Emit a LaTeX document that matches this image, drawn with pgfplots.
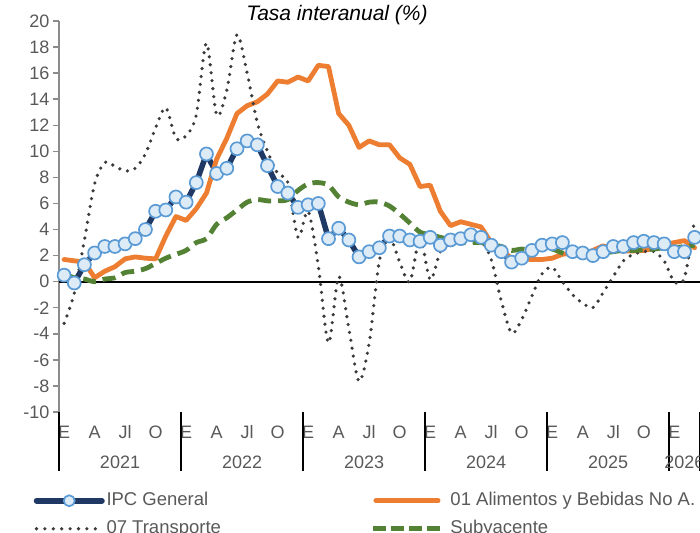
\documentclass[border=0pt]{standalone}
\usepackage{fontspec}
\setmainfont{Liberation Sans}
\usepackage{pgfplots}
\usepackage{pgfplotstable}
\pgfplotsset{compat=1.18}
\definecolor{navy}{HTML}{1F3864}
\definecolor{markblue}{HTML}{5B9BD5}
\definecolor{markfill}{HTML}{DDEBF7}
\definecolor{orng}{HTML}{ED7D31}
\definecolor{dotgray}{HTML}{3A3A3A}
\definecolor{grn}{HTML}{548235}
\definecolor{labelgray}{HTML}{595959}
\definecolor{axisgray}{HTML}{8C8C8C}
\pgfplotstableread{
i ipc ali tra sub
0 0.5 1.7 -3.2 0.6
1 -0.1 1.6 -0.9 0.3
2 1.3 1.5 3.2 0.2
3 2.2 0.3 7.5 0.0
4 2.7 0.8 9.15 0.2
5 2.7 1.15 8.85 0.3
6 2.9 1.75 8.5 0.7
7 3.3 1.9 8.7 0.8
8 4.0 1.8 9.8 1.0
9 5.4 1.75 11.8 1.4
10 5.5 3.5 13.35 1.8
11 6.5 5.0 11.0 2.1
12 6.1 4.7 11.2 2.4
13 7.6 5.6 12.8 3.0
14 9.8 6.8 18.3 3.3
15 8.3 9.4 12.8 4.4
16 8.7 11.0 14.7 4.9
17 10.2 12.9 18.95 5.5
18 10.8 13.5 16.0 6.1
19 10.5 13.8 12.2 6.3
20 8.9 14.4 10.0 6.2
21 7.3 15.4 8.3 6.2
22 6.8 15.3 7.6 6.3
23 5.7 15.7 3.4 7.0
24 5.9 15.4 5.4 7.5
25 6.0 16.6 1.2 7.6
26 3.3 16.5 -4.7 7.4
27 4.1 12.9 0.4 6.5
28 3.2 12.0 -3.6 6.1
29 1.9 10.3 -7.65 5.9
30 2.3 10.8 -4.7 6.1
31 2.6 10.5 1.6 6.1
32 3.5 10.5 3.4 5.8
33 3.5 9.5 1.5 5.2
34 3.2 9.0 0.0 4.5
35 3.1 7.3 3.35 3.8
36 3.4 7.4 0.15 3.6
37 2.8 5.4 2.3 3.4
38 3.2 4.3 2.85 3.2
39 3.3 4.6 3.2 3.0
40 3.6 4.4 3.75 3.0
41 3.4 4.2 3.2 3.0
42 2.8 3.0 1.7 2.8
43 2.3 2.4 -1.5 2.7
44 1.5 1.8 -3.95 2.4
45 1.8 1.75 -2.9 2.5
46 2.4 1.7 -1.1 2.4
47 2.8 1.7 0.6 2.5
48 2.9 1.8 1.1 2.5
49 3.0 2.1 0.0 2.2
50 2.3 2.2 -1.0 2.0
51 2.2 2.0 -1.65 2.2
52 2.0 2.4 -2.0 2.2
53 2.3 2.75 -0.85 2.2
54 2.7 2.5 0.4 2.3
55 2.7 2.35 1.6 2.4
56 3.0 2.35 2.1 2.4
57 3.1 2.4 2.3 2.45
58 3.0 2.55 2.3 2.5
59 2.9 2.8 1.6 2.6
60 2.3 3.0 0.0 2.6
61 2.3 3.15 0.3 2.7
62 3.4 2.6 4.8 2.8
}\datatable
\begin{document}
\begin{tikzpicture}
\useasboundingbox (0pt,0pt) rectangle (700pt,532pt);
\clip (0pt,0pt) rectangle (700pt,532pt);
\node[font=\fontsize{21}{24}\selectfont\itshape, anchor=base] at (337pt,511.3pt) {Tasa interanual (\%)};
\begin{axis}[
  at={(59pt,120pt)}, anchor=south west,
  scale only axis, width=640.7pt, height=391pt,
  xmin=-0.5, xmax=62.5, ymin=-10, ymax=20,
  axis x line*=bottom, axis y line*=left,
  axis line style={-},
  x axis line style={draw=none},
  y axis line style={draw=axisgray, line width=1.5pt},
  ytick={-10,-8,...,20},
  xtick={0,3,...,60},
  xticklabels={E,A,Jl,O,E,A,Jl,O,E,A,Jl,O,E,A,Jl,O,E,A,Jl,O,E},
  tick align=outside,
  major tick length=6pt,
  ytick style={draw=axisgray, line width=1.5pt},
  xtick style={draw=none},
  extra x ticks={-0.5,11.5,23.5,35.5,47.5,59.5,62.5},
  extra x tick labels={},
  extra x tick style={major tick length=59pt, xtick style={draw=black, line width=2pt}},
  tick label style={font=\fontsize{18}{20}\selectfont, text=labelgray},
  /pgf/number format/assume math mode=true,
  xticklabel style={anchor=base, yshift=-20pt},
  clip=false,
  legend columns=2,
  legend cell align=left,
  legend style={
    at={(0,0)}, anchor=north west, xshift=-25.25pt, yshift=-80pt,
    draw=none, fill=none, inner sep=0pt, outer sep=0pt,
    font=\fontsize{18.5}{22}\selectfont,
    row sep=10.5pt,
    nodes={inner sep=0pt, text height=13.5pt, text depth=4pt, text=labelgray},
    /tikz/column 1/.style={column sep=1.75pt},
    /tikz/column 2/.style={column sep=150pt},
    /tikz/column 3/.style={column sep=7.5pt},
  },
]
\draw[black, line width=2pt] (axis cs:-0.5,0) -- (axis cs:62.5,0);
\addplot[navy, line width=5.5pt, line join=round, mark=*, mark size=6.5pt,
  mark options={draw=markblue, fill=markfill, line width=1.7pt},
  legend image code/.code={
    \draw[navy, line width=5.5pt, line cap=round] (0pt,0pt) -- (65.5pt,0pt);
    \draw[markblue, fill=markfill, line width=1.7pt] (32.75pt,0pt) circle (5.5pt);}
  ] table[x=i, y=ipc] {\datatable};
\addlegendentry{IPC General}
\addplot[orng, line width=4.8pt, line join=round, line cap=round,
  legend image code/.code={
    \draw[orng, line width=5pt, line cap=round] (0pt,0pt) -- (62pt,0pt);}
  ] table[x=i, y=ali] {\datatable};
\addlegendentry{01 Alimentos y Bebidas No A.}
\addplot[dotgray, line width=3.6pt, line cap=round, dash pattern=on 0pt off 8pt, smooth,
  legend image code/.code={
    \draw[dotgray, line width=3.6pt, line cap=round, dash pattern=on 0pt off 8.4pt] (0pt,0pt) -- (65.5pt,0pt);}
  ] table[x=i, y=tra] {\datatable};
\addlegendentry{07 Transporte}
\addplot[grn, line width=4.8pt, dash pattern=on 13pt off 7pt, smooth,
  legend image code/.code={
    \draw[grn, line width=5pt, dash pattern=on 12.5pt off 5.5pt] (-2.5pt,0pt) -- (64.5pt,0pt);}
  ] table[x=i, y=sub] {\datatable};
\addlegendentry{Subyacente}
\node[anchor=base, font=\fontsize{18}{20}\selectfont, text=labelgray, yshift=-56pt] at (axis cs:5.5,-10) {2021};
\node[anchor=base, font=\fontsize{18}{20}\selectfont, text=labelgray, yshift=-56pt] at (axis cs:17.5,-10) {2022};
\node[anchor=base, font=\fontsize{18}{20}\selectfont, text=labelgray, yshift=-56pt] at (axis cs:29.5,-10) {2023};
\node[anchor=base, font=\fontsize{18}{20}\selectfont, text=labelgray, yshift=-56pt] at (axis cs:41.5,-10) {2024};
\node[anchor=base, font=\fontsize{18}{20}\selectfont, text=labelgray, yshift=-56pt] at (axis cs:53.5,-10) {2025};
\node[anchor=base, font=\fontsize{18}{20}\selectfont, text=labelgray, yshift=-56pt] at (axis cs:61,-10) {2026};
\end{axis}
\end{tikzpicture}
\end{document}
